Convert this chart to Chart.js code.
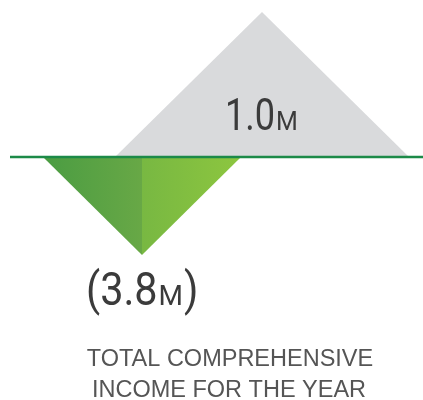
<!DOCTYPE html>
<html>
<head>
<meta charset="utf-8">
<script src="https://cdn.jsdelivr.net/npm/chart.js@4"></script>
<style>
  html, body { margin: 0; padding: 0; background: #fff; }
  #wrap { width: 423px; height: 400px; }
</style>
</head>
<body>
<div id="wrap"><canvas id="myChart"></canvas></div>
<script>
// values in millions
const values = [1.0, -3.8];
const valueLabels = ['1.0', '(3.8'];
const unitLabels = ['M', 'M'];
const closeLabels = ['', ')'];
const caption = ['TOTAL COMPREHENSIVE', 'INCOME FOR THE YEAR'];

// layout (pixels)
const baseY = 157;
const peakPx = [145, 98];        // drawn height of each triangle
const centers = [262, 142];
const halfWidths = [147, 99];

const H = 400;
const pxPerUnit = values.map((v, i) => peakPx[i] / Math.abs(v));

function grad(ctx, area, x0, x1, c0, c1) {
  if (!area) return c0;
  const g = ctx.createLinearGradient(x0, 0, x1, 0);
  g.addColorStop(0, c0);
  g.addColorStop(1, c1);
  return g;
}

const labelPlugin = {
  id: 'labels',
  afterDraw(chart) {
    const c = chart.ctx;
    const xs = chart.scales.x;
    c.save();
    c.fillStyle = '#3b3b3b';
    c.textBaseline = 'alphabetic';
    // 1.0M
    let x = xs.getPixelForValue(225);
    c.font = '44px Roboto';
    c.save(); c.translate(x, 130); c.scale(0.82, 1);
    c.fillText(valueLabels[0], 0, 0);
    let w = c.measureText(valueLabels[0]).width * 0.82;
    c.restore();
    c.font = '25px Roboto';
    c.fillText(unitLabels[0], x + w + 1, 130);

    // (3.8M)
    x = xs.getPixelForValue(86);
    c.font = '46px Roboto';
    c.save(); c.translate(x, 305); c.scale(0.9, 1);
    c.fillText(valueLabels[1], 0, 0);
    w = c.measureText(valueLabels[1]).width * 0.9;
    c.restore();
    c.font = '28px Roboto';
    c.fillText(unitLabels[1], x + w + 1, 305);
    const wm = c.measureText(unitLabels[1]).width;
    c.font = '46px Roboto';
    c.save(); c.translate(x + w + wm + 2, 305); c.scale(0.9, 1);
    c.fillText(closeLabels[1], 0, 0);
    c.restore();

    // caption
    c.fillStyle = '#555';
    c.font = '23.5px "Liberation Sans"';
    c.textAlign = 'center';
    c.fillText(caption[0], 230, 366);
    c.fillText(caption[1], 229, 397);
    c.restore();
  }
};

const ctx = document.getElementById('myChart');

new Chart(ctx, {
  type: 'line',
  data: {
    datasets: [
      {
        label: 'baseline',
        data: [{ x: 10, y: 0 }, { x: 423, y: 0 }],
        borderColor: '#1c8a48',
        borderWidth: 2.5,
        pointRadius: 0,
        fill: false,
        yAxisID: 'y',
        order: 0
      },
      {
        label: 'negative left',
        data: [{ x: centers[1] - halfWidths[1], y: 0 }, { x: centers[1], y: values[1] }],
        borderWidth: 0,
        pointRadius: 0,
        fill: 'origin',
        backgroundColor: (c) => grad(c.chart.ctx, c.chart.chartArea, centers[1] - halfWidths[1], centers[1], '#4a9c42', '#68a846'),
        yAxisID: 'y2',
        order: 1
      },
      {
        label: 'negative right',
        data: [{ x: centers[1], y: values[1] }, { x: centers[1] + halfWidths[1], y: 0 }],
        borderWidth: 0,
        pointRadius: 0,
        fill: 'origin',
        backgroundColor: (c) => grad(c.chart.ctx, c.chart.chartArea, centers[1], centers[1] + halfWidths[1], '#78b842', '#8dc63f'),
        yAxisID: 'y2',
        order: 1
      },
      {
        label: 'positive',
        data: [
          { x: centers[0] - halfWidths[0], y: 0 },
          { x: centers[0], y: values[0] },
          { x: centers[0] + halfWidths[0], y: 0 }
        ],
        borderWidth: 0,
        pointRadius: 0,
        fill: 'origin',
        backgroundColor: '#d9dadc',
        yAxisID: 'y',
        order: 2
      }
    ]
  },
  options: {
    responsive: true,
    maintainAspectRatio: false,
    animation: false,
    layout: { padding: 0 },
    plugins: { legend: { display: false }, tooltip: { enabled: false } },
    elements: { line: { tension: 0 } },
    scales: {
      x: { type: 'linear', min: 0, max: 423, display: false },
      y: { min: -(H - baseY) / pxPerUnit[0], max: baseY / pxPerUnit[0], display: false },
      y2: { min: -(H - baseY) / pxPerUnit[1], max: baseY / pxPerUnit[1], display: false }
    }
  },
  plugins: [labelPlugin]
});
</script>
</body>
</html>
